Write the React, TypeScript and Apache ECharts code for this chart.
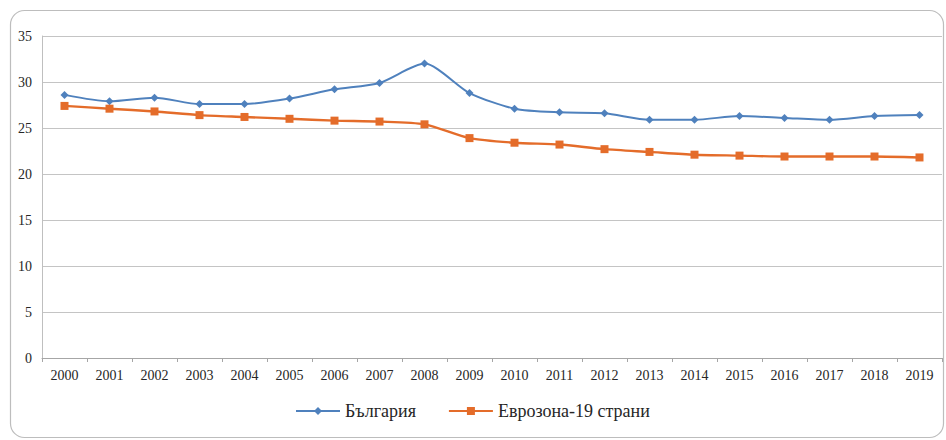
import React, { useEffect, useRef } from "react";
import * as echarts from "echarts";

const years = ["2000","2001","2002","2003","2004","2005","2006","2007","2008","2009","2010","2011","2012","2013","2014","2015","2016","2017","2018","2019"];
const bulgaria = [28.6, 27.9, 28.3, 27.6, 27.6, 28.2, 29.2, 29.9, 32.0, 28.8, 27.1, 26.7, 26.6, 25.9, 25.9, 26.3, 26.1, 25.9, 26.3, 26.4];
const eurozone = [27.4, 27.1, 26.8, 26.4, 26.2, 26.0, 25.8, 25.7, 25.4, 23.9, 23.4, 23.2, 22.7, 22.4, 22.1, 22.0, 21.9, 21.9, 21.9, 21.8];
const seriesNames = ["България", "Еврозона-19 страни"];

export default function App() {
  const ref = useRef<HTMLDivElement>(null);
  useEffect(() => {
    if (!ref.current) return;
    const chart = echarts.init(ref.current, null, { renderer: "svg" });
    const font = "Times New Roman, Liberation Serif, DejaVu Serif, serif";
    chart.setOption({
      animation: false,
      backgroundColor: "#ffffff",
      textStyle: { fontFamily: font },
      graphic: [
        {
          type: "rect",
          shape: { x: 10.5, y: 10.5, width: 933, height: 427, r: 14 },
          style: { fill: "none", stroke: "#bdbdbd", lineWidth: 1.2 },
          silent: true,
          z: -1,
        },
      ],
      grid: { left: 42, right: 4, top: 36, bottom: 82, containLabel: false },
      legend: {
        bottom: 15,
        left: 290,
        itemWidth: 44,
        itemHeight: 10,
        itemGap: 32,
        textStyle: { fontFamily: font, fontSize: 18, color: "#262626" },
        data: seriesNames,
      },
      xAxis: {
        type: "category",
        data: years,
        boundaryGap: true,
        axisLine: { show: true, lineStyle: { color: "#a6a6a6", width: 1 } },
        axisTick: { show: true, length: 4, lineStyle: { color: "#a6a6a6" } },
        axisLabel: { fontFamily: font, fontSize: 14, color: "#262626", margin: 10, interval: 0 },
      },
      yAxis: {
        type: "value",
        min: 0,
        max: 35,
        interval: 5,
        axisLine: { show: true, lineStyle: { color: "#bfbfbf", width: 1 } },
        axisTick: { show: false },
        axisLabel: { fontFamily: font, fontSize: 14, color: "#262626", margin: 10 },
        splitLine: { show: true, lineStyle: { color: "#c4c4c4", width: 1 } },
      },
      series: [
        {
          name: seriesNames[0],
          type: "line",
          data: bulgaria,
          smooth: 0.25,
          symbol: "diamond",
          symbolSize: 8,
          lineStyle: { color: "#4f81bd", width: 2 },
          itemStyle: { color: "#4f81bd" },
        },
        {
          name: seriesNames[1],
          type: "line",
          data: eurozone,
          smooth: 0.25,
          symbol: "rect",
          symbolSize: 8,
          lineStyle: { color: "#e46c2a", width: 2.4 },
          itemStyle: { color: "#e46c2a" },
        },
      ],
    });
    return () => chart.dispose();
  }, []);
  return (
    <div
      ref={ref}
      style={{ position: "fixed", left: 0, top: 0, width: 946, height: 440 }}
    />
  );
}
